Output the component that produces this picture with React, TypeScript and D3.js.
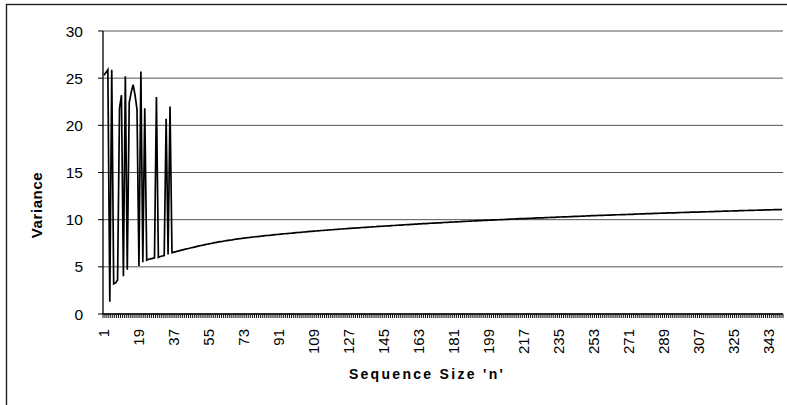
import * as d3 from "d3";

// variance for n = 1..35 (the noisy start)
const earlyVariance = [
  25.3, 25.6, 25.9, 1.3, 25.9, 3.2, 3.3, 3.6, 21.8, 23.2,
  4.0, 25.2, 4.7, 22.4, 23.5, 24.3, 23.2, 21.7, 5.1, 25.7,
  5.5, 21.8, 5.7, 5.8, 5.85, 5.9, 5.95, 23.0, 6.0, 6.1,
  6.15, 6.2, 20.7, 6.3, 22.0,
];

// variance for n = 36..350 (smooth part)
const tailVariance = [
  6.5, 6.56, 6.61, 6.67, 6.72,
  6.77, 6.82, 6.87, 6.92, 6.97, 7.02, 7.07, 7.12, 7.17, 7.22,
  7.26, 7.3, 7.35, 7.39, 7.43, 7.47, 7.51, 7.56, 7.6, 7.64,
  7.67, 7.7, 7.74, 7.77, 7.8, 7.83, 7.86, 7.9, 7.93, 7.96,
  7.99, 8.01, 8.04, 8.06, 8.09, 8.11, 8.14, 8.16, 8.19, 8.21,
  8.23, 8.25, 8.28, 8.3, 8.32, 8.34, 8.36, 8.39, 8.41, 8.43,
  8.45, 8.47, 8.49, 8.51, 8.53, 8.54, 8.56, 8.58, 8.6, 8.62,
  8.64, 8.66, 8.67, 8.69, 8.71, 8.73, 8.75, 8.76, 8.78, 8.8,
  8.82, 8.83, 8.85, 8.86, 8.88, 8.9, 8.91, 8.93, 8.94, 8.96,
  8.98, 8.99, 9.01, 9.02, 9.04, 9.05, 9.07, 9.08, 9.1, 9.11,
  9.12, 9.14, 9.15, 9.17, 9.18, 9.19, 9.21, 9.22, 9.24, 9.25,
  9.26, 9.28, 9.29, 9.3, 9.32, 9.33, 9.34, 9.35, 9.37, 9.38,
  9.39, 9.41, 9.42, 9.43, 9.45, 9.46, 9.47, 9.48, 9.5, 9.51,
  9.52, 9.53, 9.55, 9.56, 9.57, 9.58, 9.59, 9.61, 9.62, 9.63,
  9.64, 9.65, 9.66, 9.67, 9.69, 9.7, 9.71, 9.72, 9.73, 9.74,
  9.75, 9.76, 9.77, 9.78, 9.8, 9.81, 9.82, 9.83, 9.84, 9.85,
  9.86, 9.87, 9.88, 9.89, 9.9, 9.91, 9.92, 9.93, 9.94, 9.95,
  9.96, 9.97, 9.98, 9.99, 10.0, 10.01, 10.02, 10.03, 10.04, 10.05,
  10.06, 10.07, 10.08, 10.09, 10.1, 10.1, 10.11, 10.12, 10.13, 10.14,
  10.15, 10.16, 10.17, 10.18, 10.19, 10.19, 10.2, 10.21, 10.22, 10.23,
  10.24, 10.25, 10.25, 10.26, 10.27, 10.28, 10.29, 10.29, 10.3, 10.31,
  10.32, 10.33, 10.34, 10.35, 10.35, 10.36, 10.37, 10.38, 10.39, 10.4,
  10.41, 10.42, 10.42, 10.43, 10.44, 10.45, 10.46, 10.46, 10.47, 10.48,
  10.49, 10.49, 10.5, 10.51, 10.52, 10.52, 10.53, 10.54, 10.54, 10.55,
  10.56, 10.57, 10.57, 10.58, 10.59, 10.6, 10.61, 10.61, 10.62, 10.63,
  10.64, 10.64, 10.65, 10.66, 10.66, 10.67, 10.68, 10.69, 10.69, 10.7,
  10.71, 10.71, 10.72, 10.73, 10.73, 10.74, 10.75, 10.76, 10.76, 10.77,
  10.78, 10.78, 10.79, 10.79, 10.8, 10.81, 10.81, 10.82, 10.82, 10.83,
  10.84, 10.84, 10.85, 10.86, 10.86, 10.87, 10.88, 10.88, 10.89, 10.9,
  10.91, 10.91, 10.92, 10.92, 10.93, 10.94, 10.94, 10.95, 10.95, 10.96,
  10.97, 10.97, 10.98, 10.98, 10.99, 11.0, 11.0, 11.01, 11.01, 11.02,
  11.03, 11.03, 11.04, 11.04, 11.05, 11.06, 11.06, 11.07, 11.07, 11.08,
];

const yTicks = [0, 5, 10, 15, 20, 25, 30];
const labelEvery = 18;
const xTitle = "Sequence Size 'n'";
const yTitle = "Variance";

const font = "'Liberation Sans', Arial, sans-serif";

export default function App() {
  const values = [...earlyVariance, ...tailVariance];
  const categories = values.map((_, i) => i + 1);

  // plot area
  const left = 103, right = 783, top = 31, bottom = 314;

  const x = d3.scaleBand<number>().domain(categories).range([left, right]).padding(0);
  const y = d3.scaleLinear().domain([0, 30]).range([bottom, top]);
  const cx = (n: number) => (x(n) as number) + x.bandwidth() / 2;

  const line = d3
    .line<number>()
    .x((_, i) => cx(categories[i]))
    .y((d) => y(d));

  const tickLabels = categories.filter((n) => (n - 1) % labelEvery === 0);
  const boundaries = [...categories.map((n) => x(n) as number), right];

  return (
    <svg
      width={787}
      height={405}
      style={{ position: "absolute", left: 0, top: 0, background: "#fff" }}
      fontFamily={font}
    >
      {/* outer frame */}
      <rect x={6.5} y={4.5} width={800} height={420} fill="none" stroke="#222" strokeWidth={1.4} />

      {/* gridlines */}
      {yTicks.map((t) => (
        <line key={"g" + t} x1={left} x2={right} y1={y(t)} y2={y(t)} stroke="#555" strokeWidth={1} />
      ))}

      {/* y axis */}
      <line x1={left} x2={left} y1={top} y2={bottom} stroke="#000" strokeWidth={1.3} />
      {yTicks.map((t) => (
        <g key={"y" + t}>
          <line x1={left - 5} x2={left} y1={y(t)} y2={y(t)} stroke="#000" strokeWidth={1} />
          <text x={83} y={y(t)} dy="0.36em" textAnchor="end" fontSize={15.5} fill="#000">
            {t}
          </text>
        </g>
      ))}

      {/* x axis */}
      <line x1={left} x2={right} y1={bottom} y2={bottom} stroke="#000" strokeWidth={1.3} />
      {boundaries.map((b, i) => (
        <line key={"t" + i} x1={b} x2={b} y1={bottom} y2={bottom + 4} stroke="#111" strokeWidth={1} />
      ))}
      {tickLabels.map((n) => (
        <text
          key={"xl" + n}
          transform={`translate(${cx(n)},${329}) rotate(-90)`}
          dy="0.36em"
          textAnchor="end"
          fontSize={15}
          fill="#000"
        >
          {n}
        </text>
      ))}

      {/* data line */}
      <path d={line(values) ?? ""} fill="none" stroke="#000" strokeWidth={1.7} strokeLinejoin="miter" />

      {/* titles */}
      <text
        transform="translate(37,205) rotate(-90)"
        dy="0.36em"
        textAnchor="middle"
        fontSize={15}
        fontWeight="bold"
        letterSpacing={0.6}
        fill="#000"
      >
        {yTitle}
      </text>
      <text x={427} y={379} textAnchor="middle" fontSize={14} fontWeight="bold" letterSpacing={2.3} fill="#000">
        {xTitle}
      </text>
    </svg>
  );
}
